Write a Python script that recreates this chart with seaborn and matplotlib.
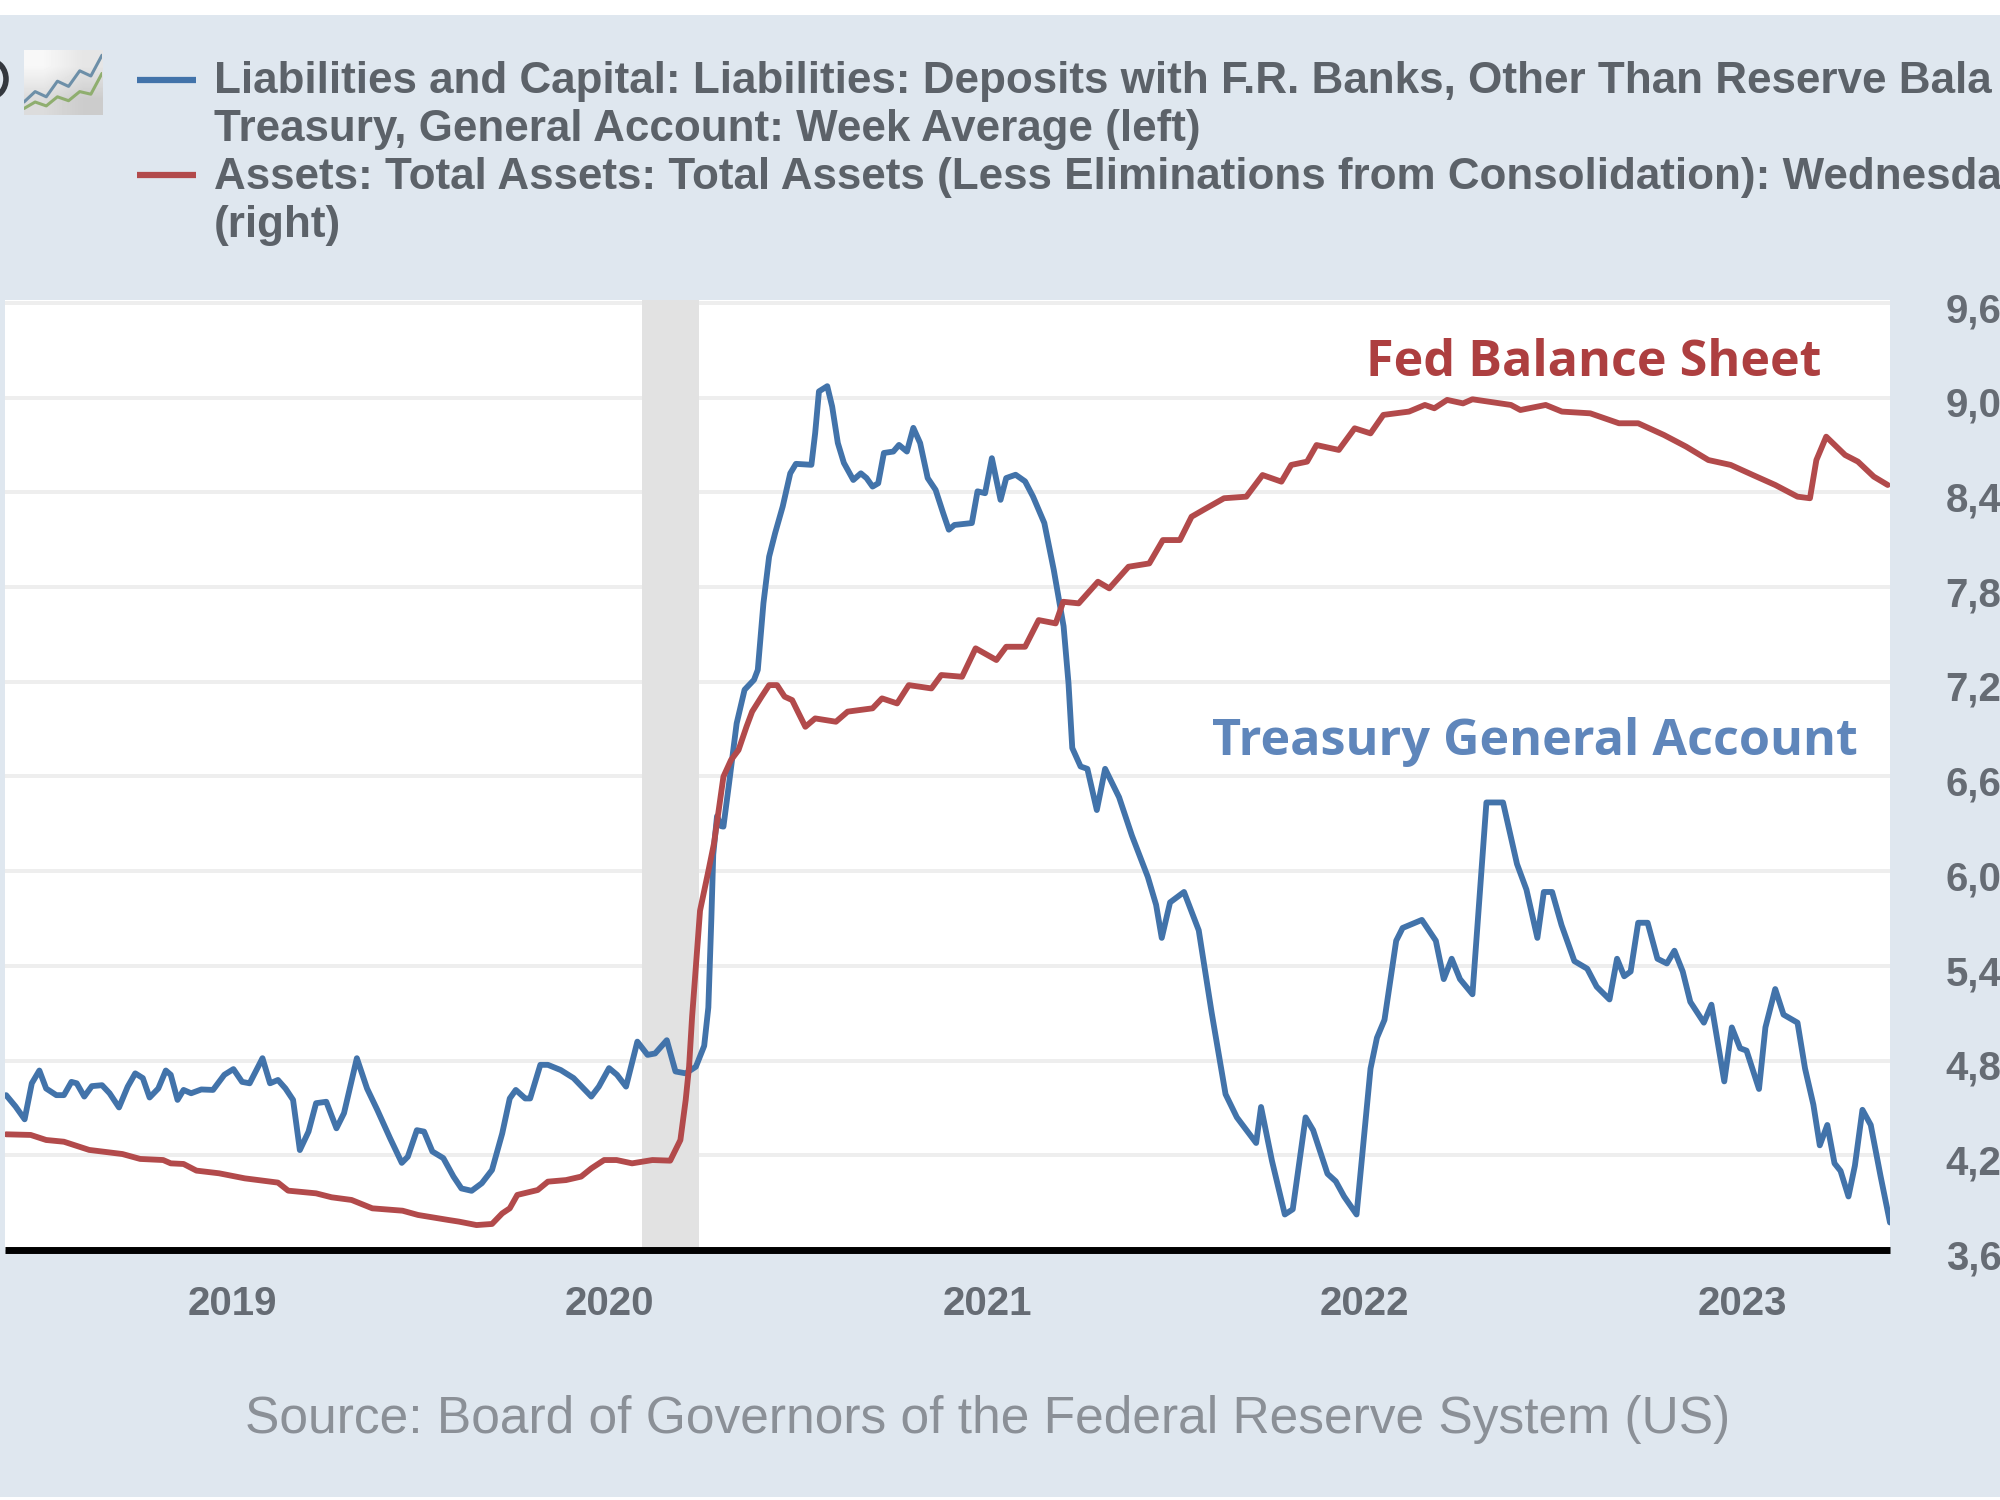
import matplotlib
matplotlib.use("Agg")
import matplotlib.pyplot as plt
from matplotlib.lines import Line2D
from matplotlib.patches import Ellipse, Rectangle
from matplotlib.transforms import ScaledTranslation
import numpy as np
import pandas as pd
import seaborn as sns

# treasury general account, left axis (billions), weeks given as decimal years
tga_years = [
    2018.402, 2018.427, 2018.451, 2018.470, 2018.490, 2018.508, 2018.535, 2018.555, 2018.575, 2018.589,
    2018.609, 2018.629, 2018.656, 2018.676, 2018.701, 2018.724, 2018.744, 2018.764, 2018.782, 2018.805,
    2018.825, 2018.838, 2018.856, 2018.872, 2018.892, 2018.919, 2018.950, 2018.980, 2019.004, 2019.027,
    2019.047, 2019.081, 2019.101, 2019.122, 2019.142, 2019.162, 2019.180, 2019.203, 2019.223, 2019.250,
    2019.277, 2019.297, 2019.331, 2019.358, 2019.385, 2019.419, 2019.450, 2019.466, 2019.490, 2019.509,
    2019.531, 2019.560, 2019.587, 2019.608, 2019.635, 2019.662, 2019.689, 2019.716, 2019.736, 2019.752,
    2019.777, 2019.790, 2019.817, 2019.837, 2019.871, 2019.905, 2019.952, 2019.972, 2019.999, 2020.020,
    2020.044, 2020.074, 2020.101, 2020.121, 2020.152, 2020.175, 2020.202, 2020.229, 2020.251, 2020.262,
    2020.270, 2020.275, 2020.285, 2020.296, 2020.302, 2020.317, 2020.337, 2020.358, 2020.383, 2020.393,
    2020.408, 2020.423, 2020.439, 2020.459, 2020.479, 2020.494, 2020.535, 2020.545, 2020.555, 2020.577,
    2020.590, 2020.605, 2020.621, 2020.646, 2020.666, 2020.681, 2020.697, 2020.712, 2020.727, 2020.752,
    2020.767, 2020.788, 2020.805, 2020.823, 2020.843, 2020.864, 2020.884, 2020.899, 2020.914, 2020.960,
    2020.975, 2020.995, 2021.013, 2021.036, 2021.051, 2021.076, 2021.101, 2021.122, 2021.152, 2021.177,
    2021.203, 2021.216, 2021.226, 2021.248, 2021.266, 2021.291, 2021.313, 2021.350, 2021.384, 2021.426,
    2021.448, 2021.463, 2021.485, 2021.522, 2021.561, 2021.595, 2021.632, 2021.662, 2021.713, 2021.726,
    2021.755, 2021.789, 2021.810, 2021.844, 2021.864, 2021.902, 2021.924, 2021.946, 2021.979, 2022.016,
    2022.033, 2022.053, 2022.084, 2022.101, 2022.152, 2022.189, 2022.210, 2022.231, 2022.253, 2022.286,
    2022.323, 2022.367, 2022.404, 2022.429, 2022.458, 2022.475, 2022.497, 2022.522, 2022.556, 2022.590,
    2022.615, 2022.649, 2022.669, 2022.688, 2022.705, 2022.725, 2022.750, 2022.776, 2022.801, 2022.821,
    2022.843, 2022.863, 2022.899, 2022.919, 2022.953, 2022.973, 2022.995, 2023.012, 2023.045, 2023.062,
    2023.088, 2023.110, 2023.147, 2023.167, 2023.189, 2023.206, 2023.226, 2023.245, 2023.261, 2023.282,
    2023.299, 2023.319, 2023.341, 2023.367, 2023.392,
]
tga_values = [
    327, 303, 276, 352, 379, 341, 327, 327, 355, 352,
    324, 346, 348, 331, 301, 345, 373, 363, 322, 341,
    379, 370, 317, 338, 331, 339, 338, 370, 382, 355,
    352, 405, 352, 359, 341, 317, 211, 250, 310, 313,
    257, 289, 405, 341, 296, 236, 184, 197, 253, 250,
    208, 194, 155, 130, 125, 141, 169, 246, 320, 338,
    320, 320, 391, 391, 380, 363, 324, 345, 384, 370,
    345, 440, 412, 415, 443, 377, 373, 387, 431, 512,
    700, 835, 916, 895, 894, 986, 1112, 1183, 1204, 1225,
    1366, 1464, 1514, 1570, 1640, 1660, 1658, 1725, 1813, 1824,
    1781, 1704, 1662, 1626, 1640, 1630, 1612, 1619, 1683, 1686,
    1700, 1686, 1736, 1704, 1630, 1605, 1556, 1521, 1531, 1535,
    1602, 1598, 1672, 1584, 1630, 1637, 1623, 1591, 1535, 1436,
    1317, 1197, 1060, 1021, 1016, 929, 1016, 956, 875, 788,
    729, 659, 734, 756, 675, 502, 329, 280, 226, 302,
    188, 75, 86, 280, 253, 161, 145, 113, 75, 383,
    448, 486, 653, 680, 697, 653, 572, 615, 572, 540,
    945, 945, 815, 761, 659, 756, 756, 686, 610, 594,
    556, 529, 615, 578, 588, 691, 691, 615, 605, 632,
    588, 524, 480, 518, 356, 470, 426, 421, 340, 470,
    551, 497, 480, 383, 307, 221, 264, 183, 167, 113,
    178, 296, 264, 156, 58,
]

# fed total assets, right axis (trillions)
assets_years = [
    2018.402, 2018.467, 2018.508, 2018.555, 2018.622, 2018.710, 2018.757, 2018.818, 2018.838, 2018.872,
    2018.906, 2018.966, 2019.034, 2019.122, 2019.149, 2019.223, 2019.264, 2019.317, 2019.372, 2019.452,
    2019.493, 2019.574, 2019.601, 2019.648, 2019.689, 2019.716, 2019.736, 2019.756, 2019.810, 2019.837,
    2019.885, 2019.925, 2019.952, 2019.986, 2020.019, 2020.060, 2020.114, 2020.161, 2020.188, 2020.202,
    2020.211, 2020.219, 2020.226, 2020.240, 2020.262, 2020.277, 2020.302, 2020.322, 2020.342, 2020.363,
    2020.378, 2020.403, 2020.423, 2020.444, 2020.464, 2020.484, 2020.499, 2020.519, 2020.545, 2020.600,
    2020.631, 2020.697, 2020.722, 2020.762, 2020.793, 2020.853, 2020.879, 2020.934, 2020.970, 2021.025,
    2021.051, 2021.101, 2021.137, 2021.182, 2021.202, 2021.243, 2021.294, 2021.324, 2021.375, 2021.430,
    2021.466, 2021.511, 2021.542, 2021.574, 2021.628, 2021.687, 2021.730, 2021.780, 2021.806, 2021.848,
    2021.873, 2021.932, 2021.974, 2022.016, 2022.050, 2022.118, 2022.160, 2022.185, 2022.219, 2022.261,
    2022.286, 2022.388, 2022.413, 2022.480, 2022.523, 2022.598, 2022.674, 2022.725, 2022.793, 2022.852,
    2022.911, 2022.970, 2023.029, 2023.088, 2023.147, 2023.180, 2023.197, 2023.223, 2023.273, 2023.307,
    2023.349, 2023.386,
]
assets_values = [
    4.333, 4.329, 4.297, 4.286, 4.234, 4.208, 4.177, 4.170, 4.149, 4.145,
    4.103, 4.086, 4.054, 4.027, 3.976, 3.959, 3.934, 3.917, 3.864, 3.849,
    3.822, 3.790, 3.780, 3.758, 3.765, 3.832, 3.864, 3.949, 3.980, 4.033,
    4.043, 4.065, 4.117, 4.170, 4.170, 4.149, 4.170, 4.166, 4.297, 4.550,
    4.762, 5.078, 5.300, 5.750, 6.000, 6.176, 6.599, 6.704, 6.768, 6.915,
    7.011, 7.106, 7.179, 7.179, 7.106, 7.084, 7.011, 6.915, 6.968, 6.947,
    7.011, 7.032, 7.095, 7.063, 7.179, 7.158, 7.243, 7.232, 7.412, 7.338,
    7.422, 7.422, 7.591, 7.570, 7.707, 7.697, 7.834, 7.792, 7.929, 7.950,
    8.098, 8.098, 8.246, 8.290, 8.363, 8.373, 8.510, 8.468, 8.574, 8.595,
    8.700, 8.669, 8.806, 8.774, 8.891, 8.912, 8.954, 8.933, 8.986, 8.964,
    8.990, 8.954, 8.922, 8.954, 8.912, 8.901, 8.838, 8.838, 8.764, 8.690,
    8.605, 8.574, 8.510, 8.447, 8.373, 8.363, 8.605, 8.753, 8.637, 8.595,
    8.500, 8.447,
]

year_ticks = [2019, 2020, 2021, 2022, 2023]
year_labels = ["2019", "2020", "2021", "2022", "2023"]
right_ticks = [3.6, 4.2, 4.8, 5.4, 6.0, 6.6, 7.2, 7.8, 8.4, 9.0, 9.6]
right_labels = ["3,6", "4,2", "4,8", "5,4", "6,0", "6,6", "7,2", "7,8", "8,4", "9,0", "9,6"]
recession = (2020.085, 2020.237)

legend_lines = [
    "Liabilities and Capital: Liabilities: Deposits with F.R. Banks, Other Than Reserve Bala",
    "Treasury, General Account: Week Average (left)",
    "Assets: Total Assets: Total Assets (Less Eliminations from Consolidation): Wednesda",
    "(right)",
]
source_text = "Source: Board of Governors of the Federal Reserve System (US)"

# little chart icon next to the legend
icon_blue = [1.0, 1.8, 1.4, 2.6, 2.2, 3.4, 3.0, 4.6]
icon_green = [0.5, 1.0, 0.7, 1.4, 1.1, 1.8, 1.6, 3.2]

PANEL = "#dfe7ef"
BLUE = "#4273aa"
RED = "#b24a4b"
TEXT = "#5c6269"
TICK_TEXT = "#666c74"
W, H = 2000, 1500


def fx(px):
    return px / W


def fy(px):
    return 1 - px / H


def draw_panel(fig):
    fig.add_artist(Rectangle((0, fy(1497)), 1, (1497 - 15) / H, transform=fig.transFigure,
                             facecolor=PANEL, edgecolor="none", zorder=-10))


def draw_legend(fig):
    ys = [82, 130, 177, 226]
    for line, y in zip(legend_lines, ys):
        fig.text(fx(214), fy(y), line, fontsize=31.7, fontweight="bold", color=TEXT, va="center", ha="left")
    fig.add_artist(Line2D([fx(137), fx(196)], [fy(80), fy(80)], color=BLUE, lw=4.5, solid_capstyle="butt"))
    fig.add_artist(Line2D([fx(137), fx(196)], [fy(175), fy(175)], color=RED, lw=4.5, solid_capstyle="butt"))

    # logo fragment cut off by the left edge
    fig.add_artist(Ellipse((fx(-9), fy(79)), 30 / W, 36 / H, transform=fig.transFigure,
                           facecolor="none", edgecolor="#34383e", lw=4))

    icon = fig.add_axes([fx(24), fy(115), 78 / W, 65 / H])
    icon.imshow([[0.97, 0.90], [0.86, 0.80]], cmap="gray", vmin=0, vmax=1, aspect="auto",
                interpolation="bilinear", extent=(0, 7, 0, 5))
    sns.lineplot(x=range(len(icon_blue)), y=icon_blue, ax=icon, color="#6d8fa8", lw=2.2)
    sns.lineplot(x=range(len(icon_green)), y=icon_green, ax=icon, color="#8fae6f", lw=2.2)
    icon.set_xlim(0, 7)
    icon.set_ylim(0, 5)
    icon.axis("off")


def draw_chart(fig):
    ax = fig.add_axes([fx(5), fy(1250), 1885 / W, 950 / H])
    ax.set_facecolor("white")

    tga = pd.DataFrame({"year": tga_years, "value": tga_values})
    assets = pd.DataFrame({"year": assets_years, "value": assets_values})

    ax.axvspan(recession[0], recession[1], color="#e2e2e2", lw=0, zorder=1)
    sns.lineplot(data=tga, x="year", y="value", ax=ax, color=BLUE, lw=4.2, sort=False,
                 estimator=None, zorder=3)
    ax.set_xlim(2018.399, 2023.392)
    ax.set_ylim(0, 2006)
    ax.set_yticks(np.arange(200, 2001, 200))
    ax.set_yticklabels([])
    ax.grid(axis="y", color="#eeeeee", lw=2.8, zorder=0)
    ax.grid(axis="x", visible=False)
    ax.set_axisbelow(True)
    ax.set_xlabel("")
    ax.set_ylabel("")
    ax.set_xticks(year_ticks)
    ax.set_xticklabels(year_labels, fontsize=29, fontweight="bold", color=TICK_TEXT)
    ax.tick_params(axis="x", length=22, width=1, color="#c6cdd6", pad=3)
    ax.tick_params(axis="y", length=0)

    ax2 = ax.twinx()
    sns.lineplot(data=assets, x="year", y="value", ax=ax2, color=RED, lw=4.2, sort=False,
                 estimator=None)
    ax2.set_ylim(3.6, 9.619)
    ax2.set_xlim(2018.399, 2023.392)
    ax2.set_yticks(right_ticks)
    ax2.set_yticklabels(right_labels, fontsize=29, fontweight="bold", color=TICK_TEXT)
    ax2.tick_params(axis="y", length=0, pad=40)
    ax2.set_ylabel("")
    ax2.grid(False)
    # labels sit a little lower than their gridlines in the original
    nudge = ScaledTranslation(0, -3 / 72, fig.dpi_scale_trans)
    for label in ax2.get_yticklabels():
        label.set_transform(label.get_transform() + nudge)

    for a in (ax, ax2):
        for side in ("top", "left", "right"):
            a.spines[side].set_visible(False)
    ax.spines["bottom"].set_visible(False)
    ax2.spines["bottom"].set_color("black")
    ax2.spines["bottom"].set_linewidth(5)
    ax2.spines["bottom"].set_capstyle("butt")

    fig.text(fx(1366), fy(363), "Fed Balance Sheet", fontsize=36.3, fontweight="bold", color="#ad3f40",
             family="Open Sans", va="center", ha="left")
    fig.text(fx(1212), fy(742), "Treasury General Account", fontsize=36.3, fontweight="bold", color="#5f86bb",
             family="Open Sans", va="center", ha="left")
    fig.text(fx(245), fy(1419), source_text, fontsize=37.1, color="#8b9097", va="center", ha="left")


if __name__ == "__main__":
    sns.set_theme(style="white")
    plt.rcParams["font.family"] = ["Liberation Sans", "DejaVu Sans"]

    fig = plt.figure(figsize=(20, 15), dpi=100, facecolor="white")
    draw_panel(fig)
    draw_legend(fig)
    draw_chart(fig)
    fig.savefig("out.png", dpi=100, facecolor="white")
